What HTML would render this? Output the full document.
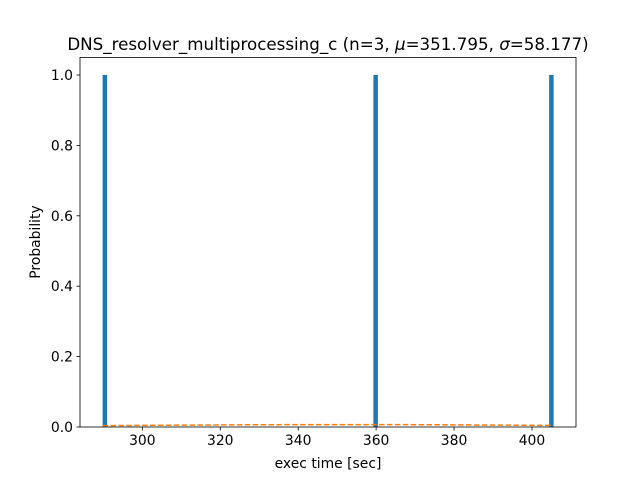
<!DOCTYPE html>
<html><head><meta charset="utf-8"><style>body{margin:0;background:#fff}svg text{font-family:"DejaVu Sans","Liberation Sans",sans-serif;fill:#000}</style></head>
<body>
<svg id="chart" width="640" height="480" xmlns="http://www.w3.org/2000/svg">
<rect width="640" height="480" fill="#fff"/>
<text x="328" y="50" font-size="16.7" text-anchor="middle">DNS_resolver_multiprocessing_c (n=3, <tspan font-style="italic">μ</tspan>=351.795, <tspan font-style="italic">σ</tspan>=58.177)</text>
<g id="plot"></g>
<text x="328" y="468" font-size="13.9" text-anchor="middle">exec time [sec]</text>
<text transform="translate(40,242) rotate(-90)" font-size="13.9" text-anchor="middle">Probability</text>
</svg>
<script>
const samples = [289.8, 359.3, 404.4];
const binWidth = 1.156;
const probs = [1.0, 1.0, 1.0];
const mu = 351.795, sigma = 58.177;
const xTicks = [300, 320, 340, 360, 380, 400];
const yTicks = [0.0, 0.2, 0.4, 0.6, 0.8, 1.0];

const L=80,R=576,T=57.4,B=427;
const x0=284.0,x1=411.3,y0=0,y1=1.05;
const sx=v=>L+(v-x0)/(x1-x0)*(R-L);
const sy=v=>B-(v-y0)/(y1-y0)*(B-T);
const NS='http://www.w3.org/2000/svg';
const g=document.getElementById('plot');
function mk(t,a){const e=document.createElementNS(NS,t);for(const k in a)e.setAttribute(k,a[k]);g.appendChild(e);return e;}
samples.forEach((s,i)=>{
  const r=mk('rect',{x:sx(s),y:sy(probs[i]),width:sx(s+binWidth)-sx(s),height:sy(0)-sy(probs[i]),fill:'#1f77b4'});
  
  
});
let pts=[];
const mn=Math.min(...samples),mx=Math.max(...samples)+binWidth;
for(let k=0;k<=100;k++){const v=mn+(mx-mn)*k/100;const p=Math.exp(-0.5*((v-mu)/sigma)**2)/(sigma*Math.sqrt(2*Math.PI));pts.push(sx(v).toFixed(2)+','+sy(p).toFixed(2));}
const pl=mk('polyline',{points:pts.join(' '),fill:'none',stroke:'#ff7f0e','stroke-width':1.5,'stroke-dasharray':'5.5,2.4'});


const fr=mk('rect',{x:L,y:T,width:R-L,height:B-T,fill:'none',stroke:'#000','stroke-width':0.8});


xTicks.forEach(t=>{
  const X=sx(t);
  const ln=mk('line',{x1:X,x2:X,y1:B,y2:B+3.5,stroke:'#000','stroke-width':0.8});
  
  
  const tx=mk('text',{x:X,y:B+18,'font-size':13.9,'text-anchor':'middle'});tx.textContent=t;
  
  
});
yTicks.forEach(t=>{
  const Y=sy(t);
  const ln=mk('line',{x1:L-3.5,x2:L,y1:Y,y2:Y,stroke:'#000','stroke-width':0.8});
  
  
  const tx=mk('text',{x:L-7,y:Y+5,'font-size':13.9,'text-anchor':'end'});tx.textContent=t.toFixed(1);
  
  
});
</script>
</body></html>
